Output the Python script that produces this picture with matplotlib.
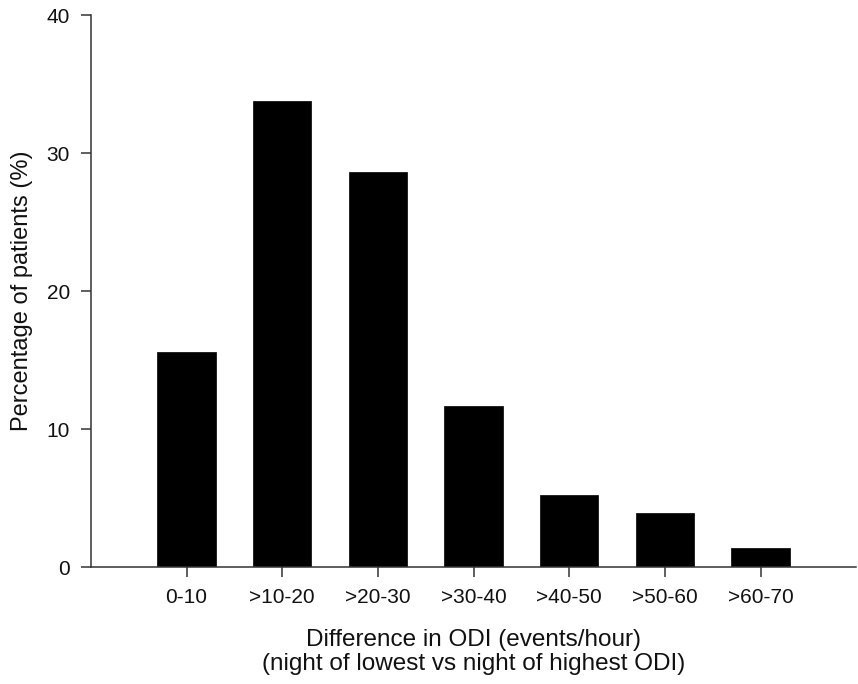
import matplotlib
matplotlib.use("Agg")
import matplotlib.pyplot as plt

categories = ["0-10", ">10-20", ">20-30", ">30-40", ">40-50", ">50-60", ">60-70"]
percentages = [15.6, 33.8, 28.6, 11.7, 5.2, 3.9, 1.35]

plt.rcParams['font.family'] = ['Liberation Sans', 'DejaVu Sans']

fig = plt.figure(figsize=(8.58, 6.84), dpi=100)
ax = fig.add_axes([0.106, 0.171, 0.892, 0.807])

x = list(range(len(categories)))
ax.bar(x, percentages, width=0.61, color='black', edgecolor='black', linewidth=0.5)

ax.set_xlim(-1, 7)
ax.set_ylim(0, 40)
ax.set_yticks([0, 10, 20, 30, 40])
ax.set_xticks(x)
ax.set_xticklabels(categories)

for s in ['top', 'right']:
    ax.spines[s].set_visible(False)
for s in ['left', 'bottom']:
    ax.spines[s].set_color('#333333')
    ax.spines[s].set_linewidth(1.1)

ax.tick_params(axis='both', direction='out', length=7, width=1.1, color='#333333',
               labelsize=15, labelcolor='#111111', pad=8)

ax.set_ylabel("Percentage of patients (%)", fontsize=17, color='#111111', labelpad=10)
ax.set_xlabel("Difference in ODI (events/hour)\n(night of lowest vs night of highest ODI)",
              fontsize=17.5, color='#111111', labelpad=16, linespacing=1.12)

fig.savefig("out.png", dpi=100)
